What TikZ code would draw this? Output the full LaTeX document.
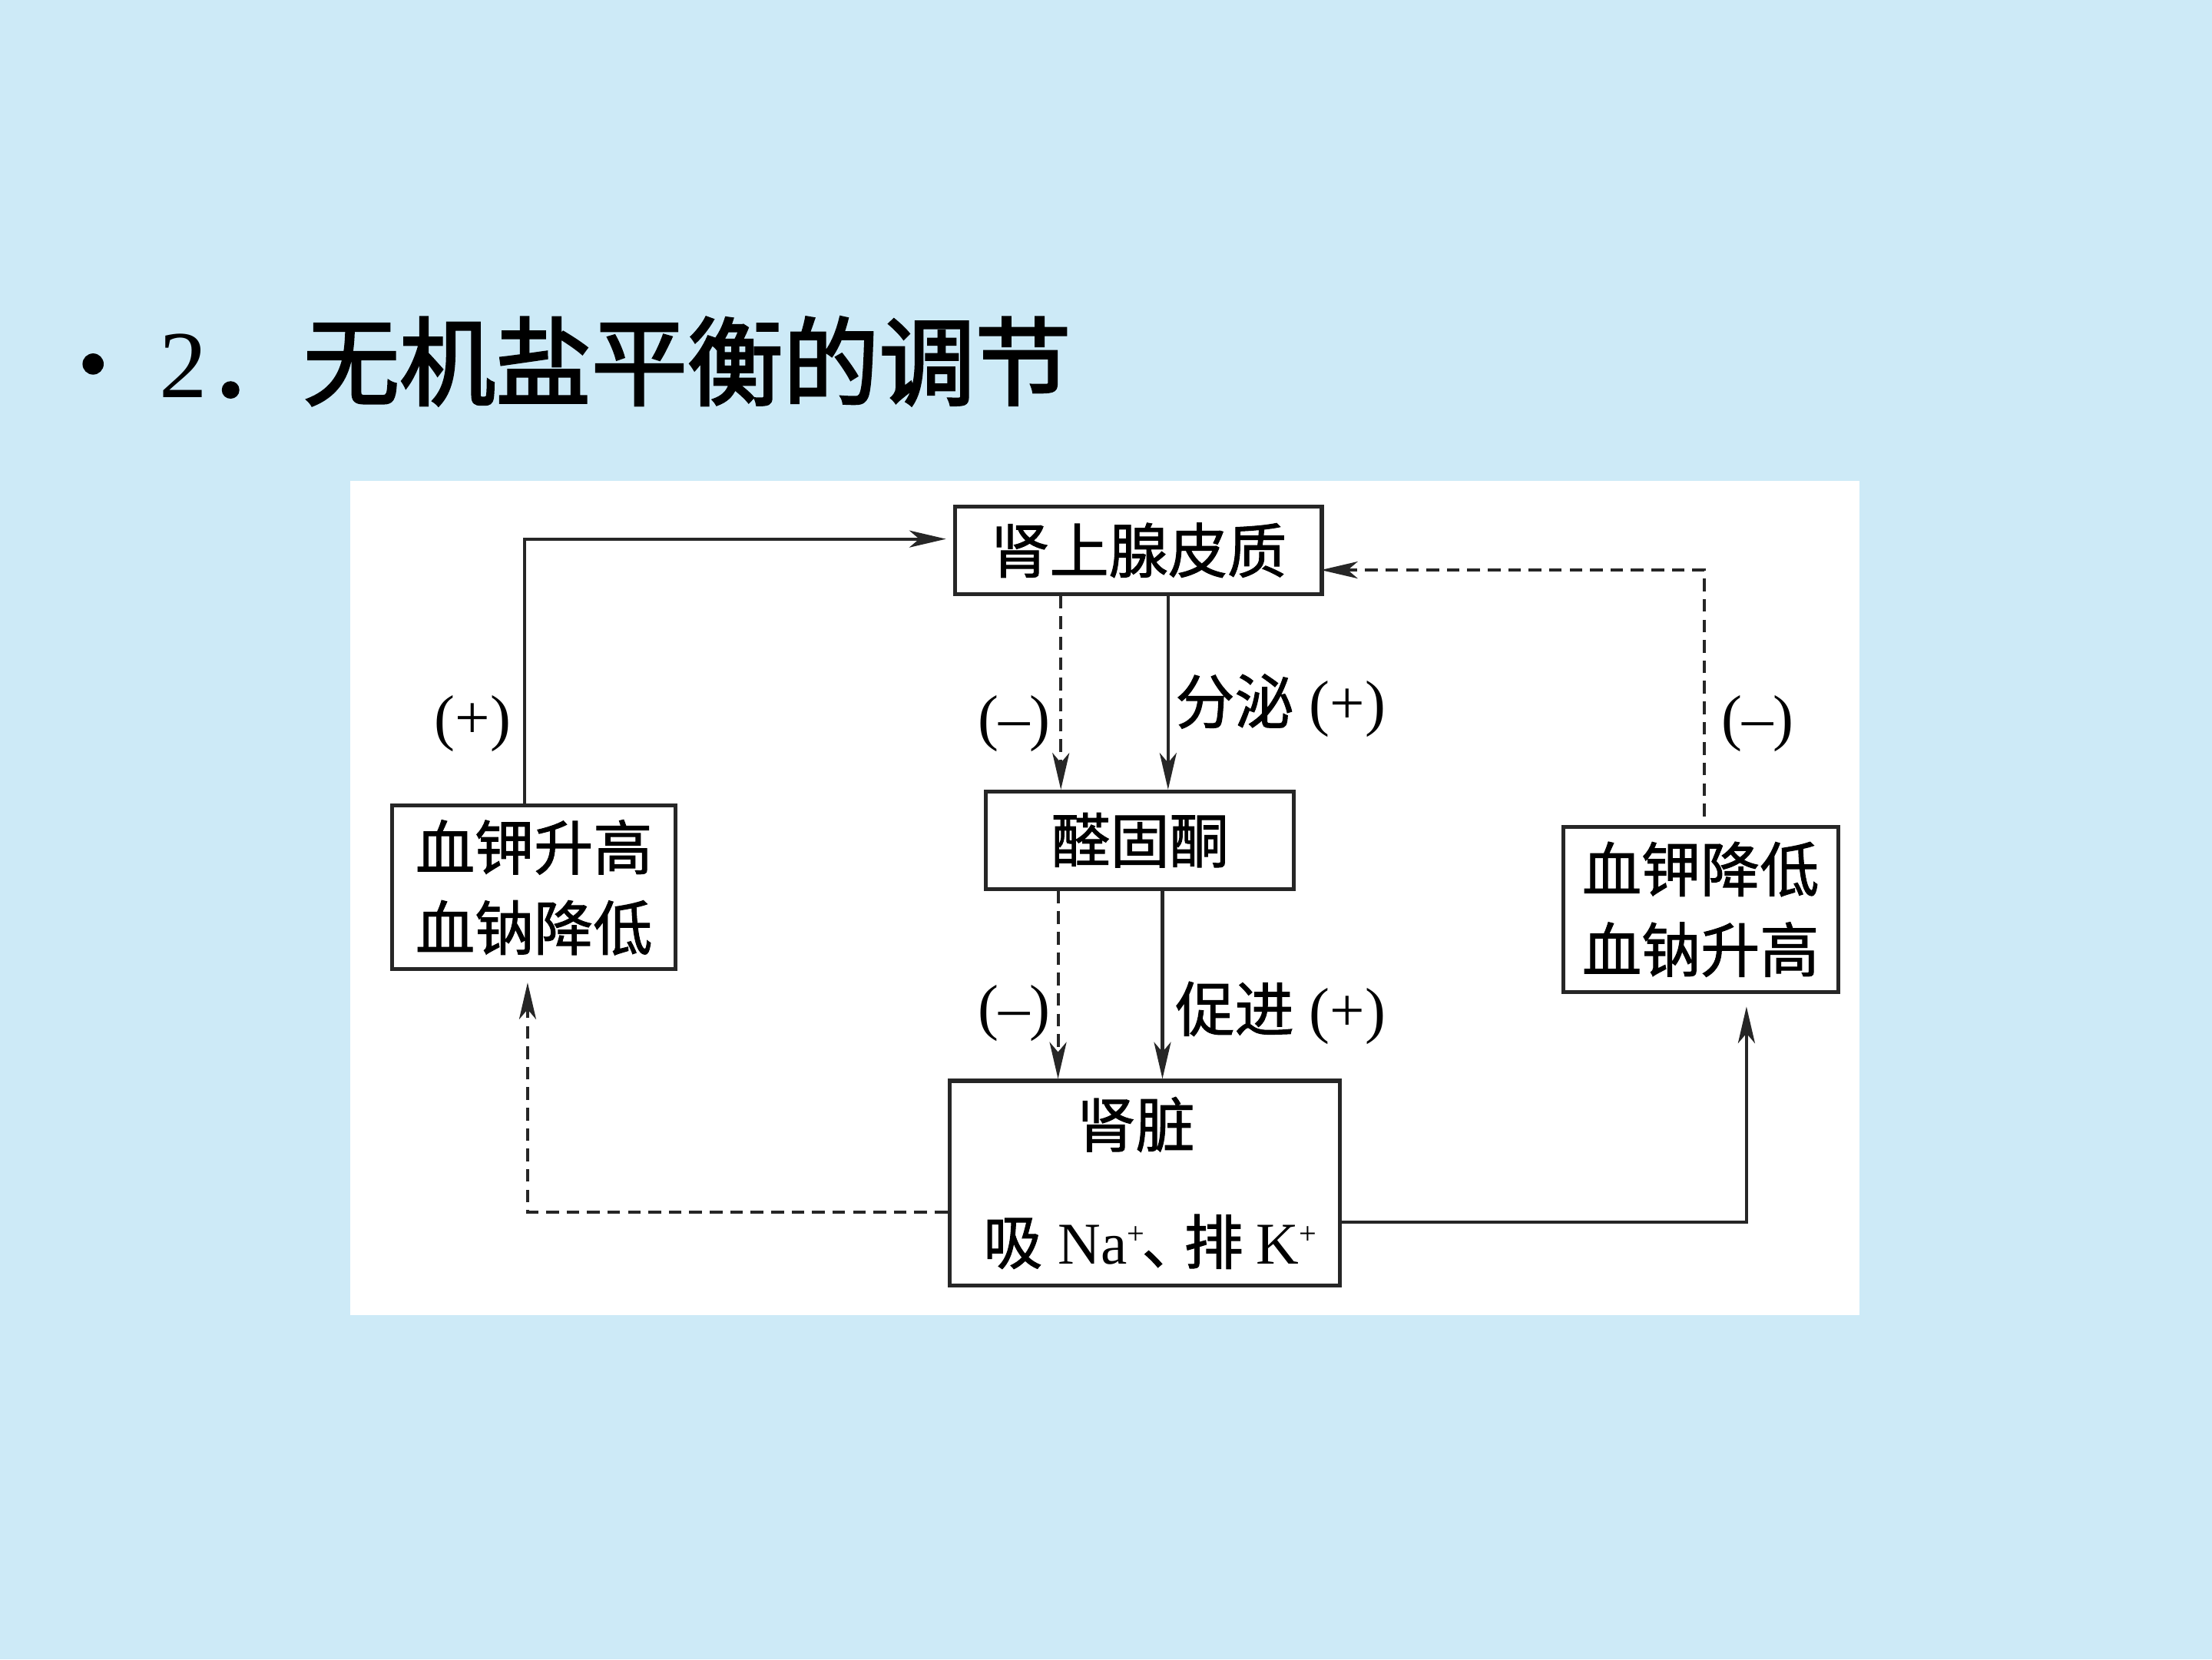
\documentclass[tikz,border=0pt]{standalone}
\usepackage{fontspec}
\setmainfont{Liberation Serif}
\newfontfamily\cjk[FakeBold=1.3]{Noto Sans CJK SC}
\newfontfamily\cjkt[FakeBold=2.5]{Noto Sans CJK SC}
\usetikzlibrary{arrows.meta,calc}
\definecolor{bg}{RGB}{205,234,247}
\begin{document}
\begin{tikzpicture}[x=1pt,y=-1pt,
  box/.style={draw=black!85, line width=2.8pt, fill=white, inner sep=0pt, align=center,
    font=\cjk\fontsize{42}{57}\selectfont},
  lbl/.style={inner sep=0pt, font=\fontsize{44}{50}\selectfont},
  conn/.style={line width=2.2pt, draw=black!85, -{Stealth[length=26pt,width=12pt,inset=7pt]}},
  dconn/.style={conn, dash pattern=on 9pt off 5.5pt},
]
\path[use as bounding box, fill=bg] (0,0) rectangle (1568,1176);
\fill[white] (248,341) rectangle (1318,932);

% title
\node[circle, fill=black, minimum size=15pt, inner sep=0pt] (bullet) at (66,258) {};
\node[anchor=west, inner sep=0pt, font=\fontsize{68}{70}\selectfont] (title) at (113,256)
  {2{\cjkt ．无机盐平衡的调节}};

% boxes
\node[box, minimum width=260pt, minimum height=62pt] (A) at (807,390) {肾上腺皮质};
\node[box, minimum width=218pt, minimum height=69pt] (B) at (808,595.5) {醛固酮};
\node[box, minimum width=201pt, minimum height=116pt] (C) at (378.5,629) {血钾升高\\血钠降低};
\node[box, minimum width=195pt, minimum height=117pt] (D) at (1205.5,644.5) {血钾降低\\血钠升高};
\node[box, minimum width=277pt, minimum height=145pt] (E) at (811.5,838.5) {};
\node[inner sep=0pt, font=\cjk\fontsize{42}{50}\selectfont] (E1) at (805,797) {肾脏};
\node[inner sep=0pt, font=\fontsize{42}{50}\selectfont] (E2) at (815,880)
  {{\cjk 吸}\hspace{11pt}Na\raisebox{14pt}{\fontsize{22}{22}\selectfont +}\hspace{-2pt}{\cjk 、}\hspace{-12pt}{\cjk 排}\hspace{9pt}K\raisebox{14pt}{\fontsize{22}{22}\selectfont +}};

% helper coordinates
\coordinate (xc) at (372,382);
\coordinate (xd1) at (752,0);
\coordinate (xs1) at (828,0);
\coordinate (xd2) at (750,0);
\coordinate (xs2) at (824,0);
\coordinate (yl) at (374,859);
\coordinate (yr) at (1238,866);
\coordinate (yt) at (1208,404);

% connectors
\draw[conn, shorten >=5pt] (C.north -| xc) |- (A.west |- xc);
\draw[dconn] (A.south -| xd1) -- (B.north -| xd1);
\draw[conn] (A.south -| xs1) -- (B.north -| xs1);
\draw[dconn] (B.south -| xd2) -- (E.north -| xd2);
\draw[conn] (B.south -| xs2) -- (E.north -| xs2);
\draw[dconn, shorten >=8pt] (E.west |- yl) -| (C.south -| yl);
\draw[conn, shorten >=9pt] (E.east |- yr) -| (D.south -| yr);
\draw[dconn, shorten <=6pt, shorten >=-2pt] (D.north -| yt) |- (A.east |- yt);

% labels
\node[lbl] (l1) at (335,513) {(+)};
\node[lbl] (l2) at (719,513) {(–)};
\node[lbl] (l3) at (1246,513) {(–)};
\node[lbl] (l4) at (719,718) {(–)};
\node[lbl, anchor=west] (l5) at (833,500) {{\cjk\fontsize{42}{50}\selectfont 分泌} (+)};
\node[lbl, anchor=west] (l6) at (833,718) {{\cjk\fontsize{42}{50}\selectfont 促进} (+)};
\end{tikzpicture}
\end{document}
